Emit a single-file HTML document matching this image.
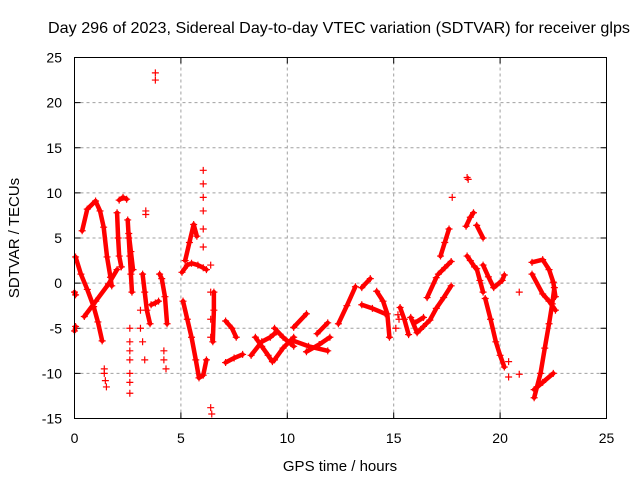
<!DOCTYPE html>
<html><head><meta charset="utf-8"><style>
html,body{margin:0;padding:0;background:#fff;}
svg{display:block;font-family:"Liberation Sans",sans-serif;}
</style></head><body>
<svg id="chart" width="640" height="480">
<rect width="640" height="480" fill="#fff"/>
<text x="48" y="33" font-size="16" textLength="582" lengthAdjust="spacingAndGlyphs">Day 296 of 2023, Sidereal Day-to-day VTEC variation (SDTVAR) for receiver glps</text>
<text x="340" y="471" font-size="15" text-anchor="middle">GPS time / hours</text>
<text transform="translate(19,238) rotate(-90)" font-size="15" text-anchor="middle">SDTVAR / TECUs</text>
<g id="grid"></g>
<g id="marks"></g>
<rect x="74.5" y="57.5" width="532" height="361" fill="none" stroke="#000"/>
</svg>
<script>
const xTicks=[0,5,10,15,20,25];
const yTicks=[-15,-10,-5,0,5,10,15,20,25];
// arcs: each arc is a list of [hour, value]
const arcs=[
[[0.36,5.8],[0.6,8.2],[0.99,9.1],[1.2,8],[1.37,6.2],[1.53,2.9],[1.69,0.65],[1.75,-0.3]],
[[0.05,2.9],[0.3,1],[0.6,-0.7],[0.9,-2.6],[1.1,-4.3],[1.3,-6.4]],
[[0.46,-3.7],[1.0,-2.0],[1.6,-0.1],[2.0,1.5]],
[[2.0,7.8],[2.05,5],[2.1,3],[2.2,1.8]],
[[2.1,9.2],[2.28,9.5],[2.45,9.3]],
[[2.5,7],[2.55,5],[2.6,3],[2.65,1],[2.7,-1]],
[[2.55,5.5],[2.65,3.5],[2.75,1.5]],
[[0.0,-5.3],[0.05,-4.8]],
[[0.0,-1],[0.05,-1.3]],
[[3.2,1],[3.3,-1],[3.4,-3],[3.55,-4.5]],
[[3.6,-2.4],[3.8,-2.2],[3.95,-2]],
[[4.0,1],[4.1,0.5],[4.25,-1.5],[4.35,-4.5]],
[[5.05,1.2],[5.3,2],[5.5,2.2],[5.8,2],[6.05,1.7],[6.2,1.5]],
[[5.2,2.5],[5.4,4.5],[5.6,6.5],[5.75,5.2]],
[[5.1,-2],[5.3,-4],[5.5,-6],[5.7,-8.5],[5.85,-10.5],[6.05,-10.2],[6.2,-8.5]],
[[6.55,-1],[6.55,-3],[6.5,-6.5]],
[[7.1,-4.2],[7.4,-5],[7.6,-6]],
[[7.1,-8.8],[7.5,-8.3],[7.9,-7.9]],
[[8.5,-6],[8.8,-7],[9.1,-8],[9.3,-8.7]],
[[8.3,-8],[8.8,-6.5],[9.2,-6],[9.5,-5.4]],
[[9.4,-5],[9.8,-6],[10.3,-7]],
[[9.4,-8.5],[9.8,-7.2],[10.3,-6]],
[[10.3,-4.9],[10.9,-3.4]],
[[10.3,-6.4],[11.0,-7.0],[11.9,-7.5]],
[[11.4,-5.6],[11.9,-4.4]],
[[10.9,-7.6],[11.5,-6.8],[12.0,-6]],
[[12.4,-4.5],[12.8,-2.5],[13.2,-0.4]],
[[13.5,-0.5],[13.9,0.5]],
[[13.5,-2.4],[14.0,-2.8],[14.6,-3.4]],
[[14.2,-0.9],[14.5,-2],[14.7,-3.4],[14.8,-6]],
[[15.3,-2.7],[15.5,-4],[15.7,-5.7]],
[[15.8,-3.8],[16.1,-5.5],[16.4,-4.8],[16.7,-4.1],[17.0,-2.8],[17.35,-1.6],[17.7,-0.3]],
[[16.0,-4.4],[16.4,-3.8]],
[[16.57,-1.6],[17.0,0.6]],
[[17.1,1.0],[17.4,1.7],[17.7,2.4]],
[[17.2,3.0],[17.4,4.5],[17.6,6.0]],
[[18.4,6.3],[18.6,7.3],[18.75,7.8]],
[[18.9,6.4],[19.2,5]],
[[18.45,3],[18.6,2.5],[18.8,1.8]],
[[18.9,1.6],[19.05,0.3],[19.2,-1]],
[[19.2,2],[19.45,0.7],[19.7,-0.5],[20.1,0.3],[20.2,0.9]],
[[19.3,-1.7],[19.55,-4],[19.8,-6.5],[20.0,-8],[20.2,-9.3]],
[[21.5,2.3],[22.0,2.6],[22.3,1.5],[22.5,0.1],[22.6,-1.5]],
[[21.5,1],[22.0,-1.2],[22.3,-2],[22.6,-3]],
[[21.6,-12.7],[21.9,-10],[22.1,-7.2],[22.3,-4.5],[22.45,-2.3],[22.55,-0.5]],
[[21.6,-11.8],[22.0,-11],[22.5,-10]]
];
// sparse scatter points
const sparseT=[3.8,3.8,3.35,3.35,1.4,1.45,1.5,1.4,2.6,2.6,2.6,2.6,2.6,2.6,2.6,3.1,3.1,3.2,3.3,4.2,4.2,4.3,6.4,6.45,6.05,6.05,6.05,6.05,6.05,6.05,6.4,6.4,6.4,6.4,17.75,18.45,18.5,20.4,20.4,20.9,20.9,15.2,15.25,15.1];
const sparseV=[22.5,23.3,8,7.6,-10,-10.8,-11.5,-9.5,-5,-6.5,-7.5,-8.5,-10,-11,-12.2,-3,-5,-6.5,-8.5,-7.5,-8.5,-9.5,-13.8,-14.5,12.5,11,9.5,8,6,4,2,-1,-4,-6,9.5,11.7,11.5,-8.7,-10.4,-10.1,-1,-3.5,-4,-5];
const X0=74.5,X1=606.5,Y0=418.5,Y1=57.5;
const xs=t=>X0+(t-0)/25*(X1-X0);
const ys=v=>Y0-(v+15)/40*(Y0-Y1);
const NS='http://www.w3.org/2000/svg';
const grid=document.getElementById('grid'),marks=document.getElementById('marks'),svg=document.getElementById('chart');
function mk(tag,attrs,parent){const e=document.createElementNS(NS,tag);for(const k in attrs)e.setAttribute(k,attrs[k]);parent.appendChild(e);return e;}
xTicks.forEach(t=>{
  const x=xs(t);
  if(t>0&&t<25){const l=mk('line',{x1:x,x2:x,y1:Y0,y2:Y1,stroke:'#a0a0a0','stroke-dasharray':'3,3'},grid);
  
  }
  const tk=mk('path',{d:`M${x},${Y0}v-6M${x},${Y1}v6`,stroke:'#000'},grid);
  
  
  const tx=mk('text',{x:x,y:443,'font-size':14,'text-anchor':'middle'},svg);tx.textContent=t;
  
  
});
yTicks.forEach(v=>{
  const y=ys(v);
  if(v>-15&&v<25){const l=mk('line',{x1:X0,x2:X1,y1:y,y2:y,stroke:'#a0a0a0','stroke-dasharray':'3,3'},grid);
  
  }
  const tk=mk('path',{d:`M${X0},${y}h6M${X1},${y}h-6`,stroke:'#000'},grid);
  
  
  const tx=mk('text',{x:62,y:y+5,'font-size':14,'text-anchor':'end'},svg);tx.textContent=v;
  
  
});
function plus(t,v){
  const x=xs(t),y=ys(v);
  const p=mk('path',{d:`M${x-3.5},${y}h7M${x},${y-3.5}v7`,stroke:'#f00','stroke-width':1.2},marks);
  
  
}
arcs.forEach(a=>{
  const pl=mk('polyline',{points:a.map(p=>xs(p[0])+','+ys(p[1])).join(' '),fill:'none',stroke:'#f00','stroke-width':4.5,'stroke-linejoin':'round','stroke-linecap':'round'},marks);
  
  
  a.forEach(p=>plus(p[0],p[1]));
});
sparseT.forEach((t,i)=>plus(t,sparseV[i]));
</script>
</body></html>
